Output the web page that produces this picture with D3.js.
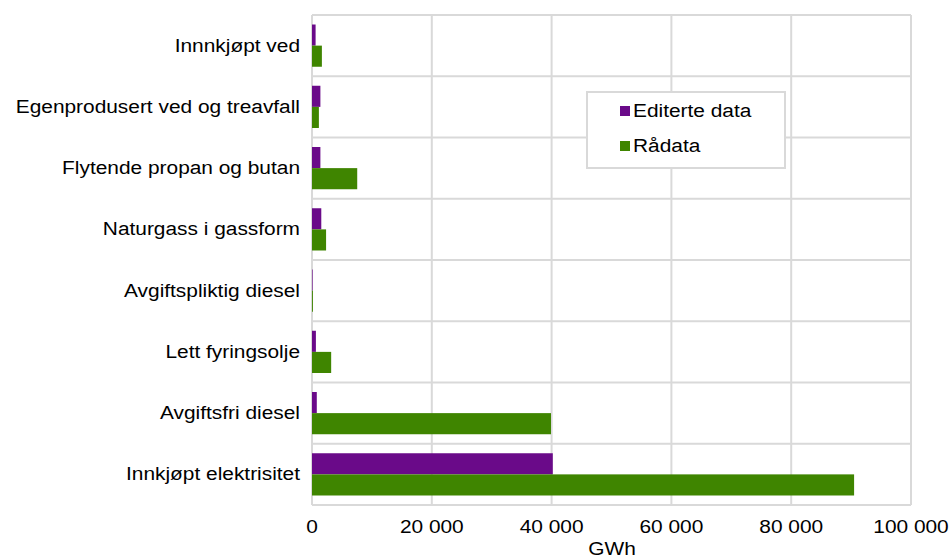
<!DOCTYPE html>
<html>
<head>
<meta charset="utf-8">
<script src="https://cdn.jsdelivr.net/npm/d3@7"></script>
<style>
  html, body { margin: 0; padding: 0; background: #fff; }
  svg { display: block; font-family: "Liberation Sans", Arial, sans-serif; }
</style>
</head>
<body>
<svg id="chart" width="951" height="558"></svg>
<script>
// Energy use by carrier, GWh
const categories = [
  "Innnkjøpt ved",
  "Egenprodusert ved og treavfall",
  "Flytende propan og butan",
  "Naturgass i gassform",
  "Avgiftspliktig diesel",
  "Lett fyringsolje",
  "Avgiftsfri diesel",
  "Innkjøpt elektrisitet"
];
const seriesNames = ["Editerte data", "Rådata"];
const editerte = [600, 1400, 1400, 1550, 100, 650, 800, 40200];
const raadata  = [1650, 1150, 7550, 2350, 150, 3200, 39900, 90500];
const xTicks = [0, 20000, 40000, 60000, 80000, 100000];
const colors = ["#6a0a89", "#3f8500"];

const svg = d3.select("#chart");
const plotLeft = 312, plotRight = 911, plotTop = 15, plotBottom = 505;
const fontSize = 18, stretch = 1.16;

const x = d3.scaleLinear().domain([0, 100000]).range([plotLeft, plotRight]);
const y = d3.scaleBand().domain(categories).range([plotTop, plotBottom]).paddingInner(0).paddingOuter(0);
const sub = d3.scaleBand().domain(seriesNames).range([0, y.bandwidth()]).paddingInner(0).paddingOuter(0.45);

const fmt = v => d3.format(",")(v).replace(/,/g, " ");

// text placed at (px, py), widened horizontally
function label(sel, px, py, anchor) {
  return sel.attr("transform", (d, i) => `translate(${px(d, i)},${py(d, i)}) scale(${stretch},1)`)
    .attr("text-anchor", anchor)
    .attr("font-size", fontSize)
    .attr("fill", "#000");
}

// grid
const grid = svg.append("g");
grid.selectAll("line.v").data(xTicks).join("line")
  .attr("x1", d => x(d)).attr("x2", d => x(d))
  .attr("y1", plotTop).attr("y2", plotBottom)
  .attr("stroke", "#d9d9d9").attr("stroke-width", 2);
const hLines = categories.map(c => y(c)).concat([plotBottom]);
grid.selectAll("line.h").data(hLines).join("line")
  .attr("x1", plotLeft).attr("x2", plotRight)
  .attr("y1", d => d).attr("y2", d => d)
  .attr("stroke", "#d9d9d9").attr("stroke-width", 2);

// bars
const rows = categories.map((c, i) => ({ cat: c, vals: [editerte[i], raadata[i]] }));
const groups = svg.append("g").selectAll("g").data(rows).join("g")
  .attr("transform", d => `translate(0,${y(d.cat)})`);
groups.selectAll("rect").data(d => d.vals.map((v, j) => ({ v, s: seriesNames[j], j })))
  .join("rect")
  .attr("x", x(0))
  .attr("y", d => sub(d.s))
  .attr("width", d => x(d.v) - x(0))
  .attr("height", sub.bandwidth())
  .attr("fill", d => colors[d.j]);

// category labels
label(svg.append("g").selectAll("text").data(categories).join("text"),
  () => 300, d => y(d) + y.bandwidth() / 2 + 6, "end")
  .text(d => d);

// x tick labels
label(svg.append("g").selectAll("text").data(xTicks).join("text"),
  d => x(d), () => 533, "middle")
  .text(d => fmt(d));

label(svg.append("g").selectAll("text").data(["GWh"]).join("text"),
  () => 612, () => 555, "middle")
  .text(d => d);

// legend
const lg = svg.append("g").attr("transform", "translate(587,92)");
lg.append("rect").attr("width", 198).attr("height", 76)
  .attr("fill", "#fff").attr("stroke", "#d9d9d9").attr("stroke-width", 2);
lg.selectAll("rect.key").data(seriesNames).join("rect")
  .attr("class", "key")
  .attr("x", 33).attr("y", (d, i) => 14 + i * 35)
  .attr("width", 10).attr("height", 10)
  .attr("fill", (d, i) => colors[i]);
label(lg.selectAll("text").data(seriesNames).join("text"),
  () => 46, (d, i) => 25 + i * 35, "start")
  .text(d => d);
</script>
</body>
</html>
